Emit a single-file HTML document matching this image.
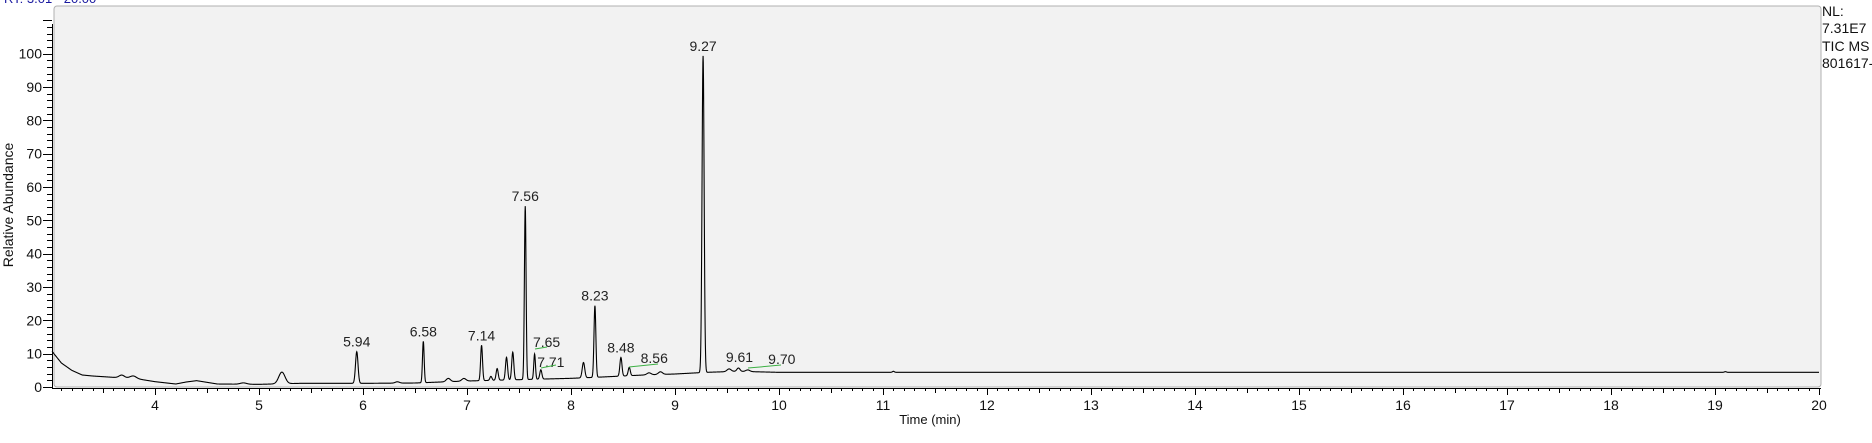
<!DOCTYPE html>
<html><head><meta charset="utf-8"><style>
body{margin:0;background:#fff;width:1872px;height:438px;overflow:hidden;font-family:"Liberation Sans",sans-serif}
svg text{font-family:"Liberation Sans",sans-serif}
</style></head><body>
<svg id="c" width="1872" height="438" xmlns="http://www.w3.org/2000/svg">
<text x="4" y="3" font-size="13" fill="#1a1aa0">RT: 3.01 - 20.00</text>
<rect x="54" y="6" width="1767" height="381" rx="3" fill="#f2f2f2" stroke="#b0b0b0" stroke-width="1"/>
<g id="axes"></g>
<g id="trace"></g>
<g id="labels"></g>
<text transform="translate(13,205) rotate(-90)" text-anchor="middle" font-size="14" fill="#111">Relative Abundance</text>
<text x="930" y="424" text-anchor="middle" font-size="13" fill="#111">Time (min)</text>
<g font-size="14" fill="#111">
<text x="1822" y="16">NL:</text>
<text x="1822" y="33">7.31E7</text>
<text x="1822" y="51">TIC  MS</text>
<text x="1822" y="68">801617-</text>
</g>
</svg>
<script>
const baselineT = [3.01,3.1,3.2,3.3,3.4,3.6,3.8,4.0,4.2,4.3,4.4,4.5,4.6,5.0,5.4,6.0,6.5,7.0,7.5,8.0,8.3,8.7,9.0,9.3,9.6,10,12,20];
const baselineV = [10.7,7.2,5.0,3.6,3.3,2.9,2.6,1.6,0.9,1.5,1.9,1.4,0.9,0.8,1.1,1.1,1.2,1.8,2.2,2.6,3.0,3.6,3.9,4.4,4.7,4.4,4.4,4.4];
const peakT = [3.68,3.79,4.85,5.22,5.94,6.33,6.58,6.82,6.97,7.14,7.23,7.29,7.38,7.44,7.56,7.65,7.71,8.12,8.23,8.48,8.56,8.75,8.86,9.27,9.52,9.61,9.70,11.1,19.1];
const peakV = [0.8,0.7,0.4,3.5,9.5,0.4,12.4,1.0,0.8,10.6,1.2,3.5,6.8,8.3,52.0,7.6,2.8,4.6,21.5,5.6,2.5,0.6,0.8,95.0,0.8,1.0,0.5,0.3,0.2];
const peakW = [0.025,0.03,0.03,0.03,0.012,0.02,0.008,0.02,0.02,0.009,0.01,0.01,0.01,0.01,0.008,0.008,0.01,0.012,0.009,0.01,0.01,0.02,0.02,0.01,0.02,0.015,0.02,0.01,0.01];
const labelT = ["5.94","6.58","7.14","7.56","7.65","7.71","8.23","8.48","8.56","9.27","9.61","9.70"];
const greenLbl = ["7.65","7.71","8.56","9.61","9.70"];
const yTicks = [0,10,20,30,40,50,60,70,80,90,100];
const xTicks = [4,5,6,7,8,9,10,11,12,13,14,15,16,17,18,19,20];
// label placement (layout only): [dx from peak, text baseline y] for displaced labels
const labelPlace = {"7.65":[12,347],"7.71":[10,367],"8.56":[25,363],"9.61":[1,362],"9.70":[34,364]};
const greenPlace = {"7.65":[535,349,547,347],"7.71":[541,368,556,365],"8.56":[629,367,658,364],"9.61":[748,368,760,367],"9.70":[760,367,781,365]};
const NS="http://www.w3.org/2000/svg";
const X = t => 155 + (t-4)*104;
const Y = v => 387 - v*3.333;
function base(t){for(let i=1;i<baselineT.length;i++){if(t<=baselineT[i]){const a=baselineT[i-1],b=baselineT[i];return baselineV[i-1]+(baselineV[i]-baselineV[i-1])*(t-a)/(b-a);}}return baselineV[baselineV.length-1];}
function sig(t){let v=base(t);for(let i=0;i<peakT.length;i++){const d=(t-peakT[i])/peakW[i];if(Math.abs(d)<6)v+=peakV[i]*Math.exp(-0.5*d*d);}return v;}
function mk(tag,attrs,parent){const e=document.createElementNS(NS,tag);for(const k in attrs)e.setAttribute(k,attrs[k]);parent.appendChild(e);return e;}
const axes=document.getElementById('axes');
let l=mk('line',{x1:52.5,y1:24,x2:52.5,y2:388,stroke:'#000','stroke-width':1},axes);


l=mk('line',{x1:52,y1:388.5,x2:1821,y2:388.5,stroke:'#000','stroke-width':1},axes);


for(let v=0;v<=110;v+=2){const maj=v%10===0;mk('line',{x1:maj?43:47,y1:Math.round(Y(v))+0.5,x2:52,y2:Math.round(Y(v))+0.5,stroke:'#000'},axes);}
yTicks.forEach(v=>{const t=mk('text',{x:42,y:Y(v)+5,'text-anchor':'end','font-size':14,fill:'#111'},axes);t.textContent=v;

});
for(let i=31;i<=200;i++){const t=i/10;const maj=i%10===0,mid=i%5===0;const x=Math.round(X(t))+0.5;mk('line',{x1:x,y1:388,x2:x,y2:388+(maj?7:mid?5:3),stroke:'#000'},axes);}
xTicks.forEach(v=>{const t=mk('text',{x:X(v),y:410,'text-anchor':'middle','font-size':14,fill:'#111'},axes);t.textContent=v;

});
let d='';for(let t=3.01;t<=20;t+=0.002){d+=(d?'L':'M')+X(t).toFixed(2)+','+Y(sig(t)).toFixed(2);}
const p=mk('path',{d:d,fill:'none',stroke:'#000','stroke-width':1.1},document.getElementById('trace'));


const lg=document.getElementById('labels');
labelT.forEach(s=>{const t=parseFloat(s);let top=sig(t);for(let k=-0.01;k<=0.01;k+=0.002)top=Math.max(top,sig(t+k));
let lx=X(t),ly=Y(top)-5;
if(labelPlace[s]){lx=X(t)+labelPlace[s][0];ly=labelPlace[s][1];}
const tx=mk('text',{x:lx,y:ly,'text-anchor':'middle','font-size':14,fill:'#222'},lg);tx.textContent=s;


if(greenLbl.includes(s)){const g=greenPlace[s];const gl=mk('line',{x1:g[0],y1:g[1],x2:g[2],y2:g[3],stroke:'#3cb043','stroke-width':1},lg);

}});
</script>
</body></html>
